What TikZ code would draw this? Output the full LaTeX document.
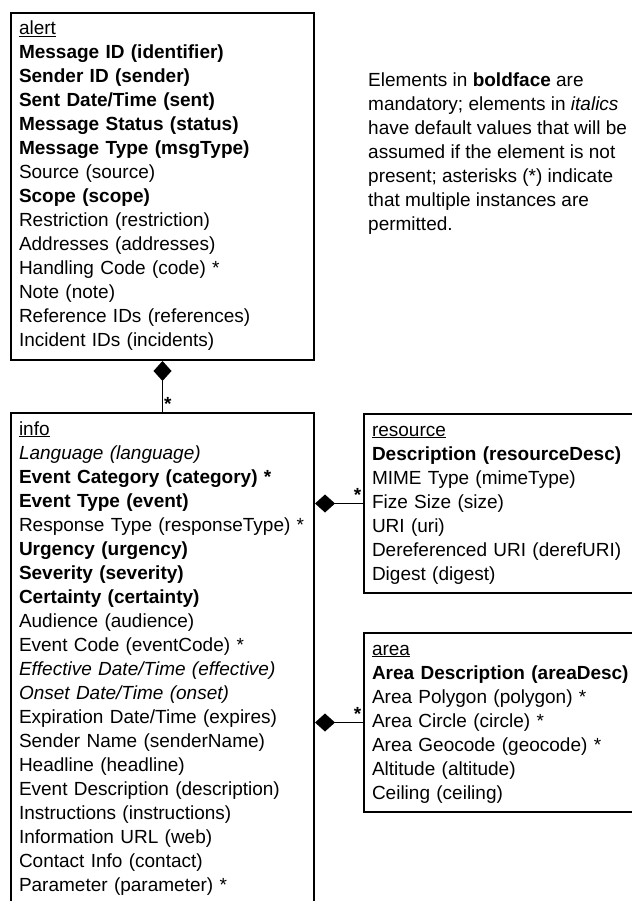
\documentclass[tikz,border=0pt]{standalone}
\usepackage{fontspec}
\setmainfont{Liberation Sans}
\usetikzlibrary{arrows.meta}

\begin{document}
\begin{tikzpicture}[x=1pt, y=-1pt,
  font=\fontsize{19}{24}\selectfont,
  entity/.style={draw, line width=2pt, anchor=north west, align=left,
    inner xsep=8pt, inner ysep=4pt,
    execute at begin node={\rule{0pt}{18pt}},
    execute at end node={\rule[-9pt]{0pt}{9pt}}},
  link/.style={line width=1.3pt, {Diamond[length=20pt, width=18pt]}-},
  many/.style={font=\fontsize{19}{24}\selectfont\bfseries, inner sep=1pt}]

\path[use as bounding box, fill=white] (0,0) rectangle (631,901);

% --- alert ---
\node[entity, text width=287pt] (alert) at (10,12) {\underline{alert}\\
  \textbf{Message ID (identifier)}\\
  \textbf{Sender ID (sender)}\\
  \textbf{Sent Date/Time (sent)}\\
  \textbf{Message Status (status)}\\
  \textbf{Message Type (msgType)}\\
  Source (source)\\
  \textbf{Scope (scope)}\\
  Restriction (restriction)\\
  Addresses (addresses)\\
  Handling Code (code) *\\
  Note (note)\\
  Reference IDs (references)\\
  Incident IDs (incidents)};

% --- legend ---
\node[anchor=north west, align=left, inner sep=0pt] (note) at (368,73)
  {Elements in \textbf{boldface} are\\
   mandatory; elements in \textit{italics}\\
   have default values that will be\\
   assumed if the element is not\\
   present; asterisks (*) indicate\\
   that multiple instances are\\
   permitted.};

% --- info (runs past the bottom) ---
\node[entity, text width=287pt, execute at end node={\rule[-30pt]{0pt}{30pt}}] (info) at (10,412) {\underline{info}\\
  \textit{Language (language)}\\
  \textbf{Event Category (category) *}\\
  \textbf{Event Type (event)}\\
  Response Type (responseType) *\\
  \textbf{Urgency (urgency)}\\
  \textbf{Severity (severity)}\\
  \textbf{Certainty (certainty)}\\
  Audience (audience)\\
  Event Code (eventCode) *\\
  \textit{Effective Date/Time (effective)}\\
  \textit{Onset Date/Time (onset)}\\
  Expiration Date/Time (expires)\\
  Sender Name (senderName)\\
  Headline (headline)\\
  Event Description (description)\\
  Instructions (instructions)\\
  Information URL (web)\\
  Contact Info (contact)\\
  Parameter (parameter) *};

% --- resource and area (run past the right edge) ---
\node[entity, text width=300pt] (resource) at (363,413) {\underline{resource}\\
  \textbf{Description (resourceDesc)}\\
  MIME Type (mimeType)\\
  Fize Size (size)\\
  URI (uri)\\
  Dereferenced URI (derefURI)\\
  Digest (digest)};

\node[entity, text width=300pt] (area) at (363,632) {\underline{area}\\
  \textbf{Area Description (areaDesc)}\\
  Area Polygon (polygon) *\\
  Area Circle (circle) *\\
  Area Geocode (geocode) *\\
  Altitude (altitude)\\
  Ceiling (ceiling)};

% --- compositions ---
\draw[link] (alert.south) -- (info.north) node[many, pos=1, above right] (manyinfo) {*};
\draw[link] (info.east |- resource.west) -- (resource.west) node[many, pos=1, above left] (manyres) {*};
\draw[link] (info.east |- area.west) -- (area.west) node[many, pos=1, above left] (manyarea) {*};

\end{tikzpicture}
\end{document}
